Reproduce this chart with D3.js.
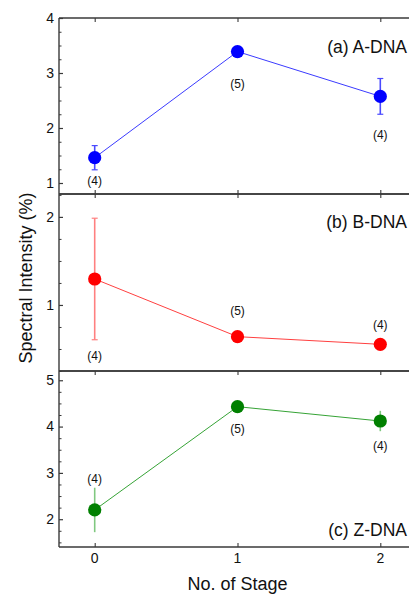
<!DOCTYPE html>
<html>
<head>
<meta charset="utf-8">
<script src="https://cdnjs.cloudflare.com/ajax/libs/d3/7.8.5/d3.min.js"></script>
<style>
  body { margin: 0; background: #fff; }
  svg { display: block; font-family: "Liberation Sans", Arial, sans-serif; }
</style>
</head>
<body>
<svg id="chart" width="409" height="594"></svg>
<script>

// stages on the x axis
var stages = [0, 1, 2];
var stageTicks = ["0", "1", "2"];

// (a) A-DNA
var aMean = [1.46, 3.39, 2.575];
var aErr = [0.22, 0.05, 0.325];
var aCount = ["(4)", "(5)", "(4)"];
var aLabelAt = [1.04, 2.80, 1.88];
var aTicks = [1, 2, 3, 4];

// (b) B-DNA
var bMean = [1.295, 0.64, 0.553];
var bErr = [0.69, 0.03, 0.02];
var bCount = ["(4)", "(5)", "(4)"];
var bLabelAt = [0.42, 0.93, 0.78];
var bTicks = [1, 2];

// (c) Z-DNA
var cMean = [2.2, 4.43, 4.12];
var cErr = [0.48, 0.05, 0.22];
var cCount = ["(4)", "(5)", "(4)"];
var cLabelAt = [2.88, 3.95, 3.59];
var cTicks = [2, 3, 4, 5];

var left = 59, xRight = 416;
var axisColor = "#3a3a3a";

var svg = d3.select("#chart");

var x = d3.scaleLinear().domain([-0.25, 2.25]).range([left, xRight]);

var panels = [
	{ name: "(a) A-DNA", mean: aMean, err: aErr, count: aCount, labelAt: aLabelAt, ticks: aTicks,
	  domain: [0.8, 4], top: 18, bottom: 194, titleY: 53, tickDir: 1,
	  fill: "#0000ff", line: "#3b3bff", bar: "#4a4aff", cap: 3 },
	{ name: "(b) B-DNA", mean: bMean, err: bErr, count: bCount, labelAt: bLabelAt, ticks: bTicks,
	  domain: [0.25, 2.26], top: 194, bottom: 371, titleY: 228, tickDir: 0,
	  fill: "#ff0000", line: "#ff4040", bar: "#ff8080", cap: 3 },
	{ name: "(c) Z-DNA", mean: cMean, err: cErr, count: cCount, labelAt: cLabelAt, ticks: cTicks,
	  domain: [1.4, 5.2], top: 371, bottom: 547, titleY: 536, tickDir: 1,
	  fill: "#008000", line: "#36a336", bar: "#80c880", cap: 0 }
];

panels.forEach(function(p, k) {

	var y = d3.scaleLinear().domain(p.domain).range([p.bottom, p.top]);
	var g = svg.append("g").attr("class", "panel");

	// y axis: inward ticks, major on integers, minor every 0.25
	var yAxis = d3.axisRight(y).tickValues(p.ticks).tickSize(4).tickFormat("");
	g.append("g").attr("transform", "translate(" + left + ",0)").call(yAxis)
		.call(function(s) {
			s.select(".domain").remove();
			s.selectAll(".tick line").attr("stroke", axisColor).attr("stroke-width", 1.2);
		});

	var minor = d3.range(Math.ceil(p.domain[0] * 4), Math.floor(p.domain[1] * 4) + 1)
		.map(function(v) { return v / 4; })
		.filter(function(v) { return p.ticks.indexOf(v) < 0; });
	var yMinor = d3.axisRight(y).tickValues(minor).tickSize(2.5).tickFormat("");
	g.append("g").attr("transform", "translate(" + left + ",0)").call(yMinor)
		.call(function(s) {
			s.select(".domain").remove();
			s.selectAll(".tick line").attr("stroke", axisColor).attr("stroke-width", 1);
		});

	// tick labels
	g.selectAll("text.ylab").data(p.ticks).enter().append("text")
		.attr("class", "ylab")
		.attr("x", left - 5)
		.attr("y", function(d) { return y(d); })
		.attr("dy", "0.35em")
		.attr("text-anchor", "end")
		.attr("font-size", 14)
		.attr("fill", "#111")
		.text(function(d) { return d; });

	// top frame line with inward ticks
	var xTop = d3.axisBottom(x).tickValues(stages).tickSize(4).tickFormat("");
	g.append("g").attr("transform", "translate(0," + p.top + ")").call(xTop)
		.call(function(s) {
			s.select(".domain").attr("stroke", axisColor).attr("stroke-width", 1.4)
				.attr("d", "M" + left + ",0H" + xRight);
			s.selectAll(".tick line").attr("stroke", axisColor).attr("stroke-width", 1.1);
		});

	// bottom frame line with inward ticks
	var xBot = d3.axisTop(x).tickValues(stages).tickSize(p.tickDir ? 4 : 0).tickFormat("");
	g.append("g").attr("transform", "translate(0," + p.bottom + ")").call(xBot)
		.call(function(s) {
			s.select(".domain").attr("stroke", axisColor).attr("stroke-width", 1.4)
				.attr("d", "M" + left + ",0H" + xRight);
			s.selectAll(".tick line").attr("stroke", axisColor).attr("stroke-width", 1.1);
		});

	// connecting line
	var line = d3.line()
		.x(function(d, i) { return x(stages[i]); })
		.y(function(d) { return y(d); });
	g.append("path").datum(p.mean)
		.attr("d", line)
		.attr("fill", "none")
		.attr("stroke", p.line)
		.attr("stroke-width", 1);

	// error bars
	var bars = g.selectAll("g.err").data(p.mean).enter().append("g").attr("class", "err");
	bars.append("line")
		.attr("x1", function(d, i) { return x(stages[i]); })
		.attr("x2", function(d, i) { return x(stages[i]); })
		.attr("y1", function(d, i) { return y(d - p.err[i]); })
		.attr("y2", function(d, i) { return y(d + p.err[i]); })
		.attr("stroke", p.bar)
		.attr("stroke-width", 1.6);
	if (p.cap > 0) {
		[-1, 1].forEach(function(sgn) {
			bars.append("line")
				.attr("x1", function(d, i) { return x(stages[i]) - p.cap; })
				.attr("x2", function(d, i) { return x(stages[i]) + p.cap; })
				.attr("y1", function(d, i) { return y(d + sgn * p.err[i]); })
				.attr("y2", function(d, i) { return y(d + sgn * p.err[i]); })
				.attr("stroke", p.bar)
				.attr("stroke-width", 1.2);
		});
	}

	// markers
	g.selectAll("circle").data(p.mean).enter().append("circle")
		.attr("cx", function(d, i) { return x(stages[i]); })
		.attr("cy", function(d) { return y(d); })
		.attr("r", 6.6)
		.attr("fill", p.fill);

	// sample counts
	g.selectAll("text.cnt").data(p.count).enter().append("text")
		.attr("class", "cnt")
		.attr("x", function(d, i) { return x(stages[i]); })
		.attr("y", function(d, i) { return y(p.labelAt[i]); })
		.attr("dy", "0.35em")
		.attr("text-anchor", "middle")
		.attr("font-size", 12)
		.attr("fill", "#111")
		.text(function(d) { return d; });

	// panel title
	g.append("text")
		.attr("x", 407)
		.attr("y", p.titleY)
		.attr("text-anchor", "end")
		.attr("font-size", 17.5)
		.attr("fill", "#111")
		.text(p.name);

});// END: panels loop

// shared y axis line
svg.append("line")
	.attr("x1", left).attr("x2", left)
	.attr("y1", panels[0].top).attr("y2", panels[2].bottom)
	.attr("stroke", axisColor).attr("stroke-width", 1.4);

// x tick labels under the bottom panel
svg.selectAll("text.xlab").data(stageTicks).enter().append("text")
	.attr("class", "xlab")
	.attr("x", function(d, i) { return x(stages[i]); })
	.attr("y", 563)
	.attr("text-anchor", "middle")
	.attr("font-size", 14)
	.attr("fill", "#111")
	.text(function(d) { return d; });

// axis titles
svg.append("text")
	.attr("x", x(1))
	.attr("y", 590)
	.attr("text-anchor", "middle")
	.attr("font-size", 18)
	.attr("fill", "#111")
	.text("No. of Stage");

svg.append("text")
	.attr("transform", "translate(32,278) rotate(-90)")
	.attr("text-anchor", "middle")
	.attr("font-size", 18)
	.attr("fill", "#111")
	.text("Spectral Intensity (%)");

</script>
</body>
</html>
